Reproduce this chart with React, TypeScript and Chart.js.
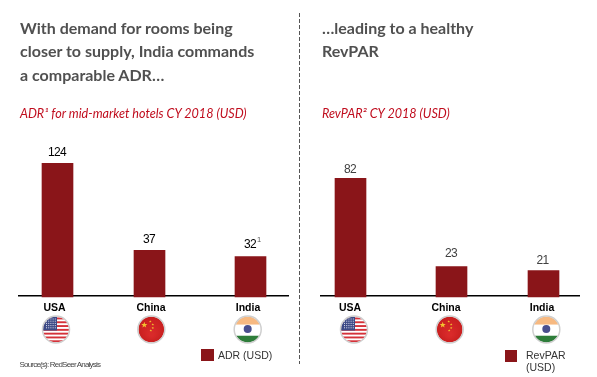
import React, { useEffect, useRef } from "react";
import { Chart, registerables } from "chart.js";

Chart.register(...registerables);

const categories = ["USA", "China", "India"];

// Printed figures in the reference.
const adrValues = [124, 37, 32];
const revparValues = [82, 23, 21];
// The reference's bars are not strictly to scale with their printed figures,
// so bar heights are read from the picture separately (in units of the tallest bar's figure).
const adrBarHeights = [124, 42.3, 36.6];
const revparBarHeights = [82, 20.3, 17.5];

const leftTitle = ["With demand for rooms being", "closer to supply, India commands", "a comparable ADR…"];
const rightTitle = ["…leading to a healthy", "RevPAR"];
const leftSubtitle = "ADR¹ for mid-market hotels CY 2018 (USD)";
const rightSubtitle = "RevPAR² CY 2018 (USD)";
const source = "Source(s): RedSeer Analysis";

const BAR = "#8a1519";

function star(c: CanvasRenderingContext2D, x: number, y: number, r: number) {
  c.beginPath();
  for (let i = 0; i < 10; i++) {
    const a = -Math.PI / 2 + (i * Math.PI) / 5;
    const d = i % 2 ? r * 0.42 : r;
    c.lineTo(x + d * Math.cos(a), y + d * Math.sin(a));
  }
  c.closePath();
  c.fill();
}

function drawFlag(c: CanvasRenderingContext2D, name: string, x: number, y: number) {
  const R = 13;
  c.save();
  c.beginPath();
  c.arc(x, y, R, 0, Math.PI * 2);
  c.clip();
  if (name === "USA") {
    c.fillStyle = "#fff";
    c.fillRect(x - R, y - R, 2 * R, 2 * R);
    c.fillStyle = "#d5323a";
    for (let i = 0; i < 7; i++) c.fillRect(x - R, y - R + 1 + i * 3.8, 2 * R, 1.9);
    c.fillStyle = "#3d4a86";
    c.fillRect(x - R, y - R, R + 1, R + 1);
    c.fillStyle = "#dfe2ee";
    for (let i = 0; i < 5; i++)
      for (let j = 0; j < 5; j++) c.fillRect(x - R + 3 + j * 2.2, y - R + 2 + i * 2.2, 1, 1);
  } else if (name === "China") {
    const g = c.createRadialGradient(x, y + 5, 2, x, y, R);
    g.addColorStop(0, "#d92a2a");
    g.addColorStop(1, "#c81f1f");
    c.fillStyle = g;
    c.fillRect(x - R, y - R, 2 * R, 2 * R);
    c.fillStyle = "#f2c230";
    star(c, x - 7, y - 4.5, 3.2);
    star(c, x - 1, y - 8, 1.3);
    star(c, x + 1.5, y - 5, 1.3);
    star(c, x + 1.5, y - 1.5, 1.3);
    star(c, x - 0.5, y + 1, 1.3);
  } else {
    c.fillStyle = "#fff";
    c.fillRect(x - R, y - R, 2 * R, 2 * R);
    c.fillStyle = "#f7b981";
    c.fillRect(x - R, y - R, 2 * R, R * 0.62);
    c.fillStyle = "#2e7d3a";
    c.fillRect(x - R, y + R * 0.48, 2 * R, R);
    c.fillStyle = "#4a4f8e";
    c.beginPath();
    c.arc(x, y - 0.5, 4, 0, Math.PI * 2);
    c.fill();
  }
  c.restore();
  c.beginPath();
  c.arc(x, y, R + 0.5, 0, Math.PI * 2);
  c.strokeStyle = "#cfcfcf";
  c.lineWidth = 1.5;
  c.stroke();
}

type PanelProps = {
  label: string;
  heights: number[];
  values: number[];
  left: number;
  pad: [number, number];
  range: [number, number];
  yMax: number;
  base: number;
  barSlots: number[];
  tickSlots: number[];
  flagSlots: number[];
  labelNudge: [number, number][];
  labelColor: string;
  note?: string;
};

function Panel(p: PanelProps) {
  const ref = useRef<HTMLCanvasElement>(null);
  useEffect(() => {
    const chart = new Chart(ref.current!, {
      type: "bar",
      data: {
        datasets: [
          {
            label: p.label,
            data: p.heights.map((y, i) => ({ x: p.barSlots[i], y })),
            backgroundColor: BAR,
            barThickness: 31,
            base: p.base,
            clip: false,
          } as any,
        ],
      },
      options: {
        animation: false,
        responsive: false,
        layout: { padding: { left: p.pad[0], right: p.pad[1], top: 0, bottom: 0 } },
        plugins: { legend: { display: false }, tooltip: { enabled: false } },
        scales: {
          x: {
            type: "linear",
            offset: false,
            min: p.range[0],
            max: p.range[1],
            grid: { display: false, drawTicks: false },
            border: { display: true, color: "#000", width: 1.4 },
            afterBuildTicks: (s: any) => {
              s.ticks = p.tickSlots.map((value) => ({ value }));
            },
            afterFit: (s: any) => {
              s.height = 81.5;
            },
            ticks: {
              autoSkip: false,
              maxRotation: 0,
              padding: 6,
              color: "#000",
              font: { family: "Liberation Sans", size: 10.5, weight: "bold" },
              callback: (v: any) => categories[p.tickSlots.indexOf(v)],
            },
          },
          y: { display: false, min: 0, max: p.yMax },
        },
      } as any,
      plugins: [
        {
          id: "marks",
          afterDatasetsDraw(ch: any) {
            const c = ch.ctx as CanvasRenderingContext2D;
            const meta = ch.getDatasetMeta(0);
            c.save();
            c.textAlign = "center";
            c.textBaseline = "middle";
            meta.data.forEach((bar: any, i: number) => {
              const [dx, dy] = p.labelNudge[i];
              c.fillStyle = p.labelColor;
              c.font = "12px 'Liberation Sans'";
              (c as any).letterSpacing = "-0.7px";
              c.fillText(String(p.values[i]), bar.x + dx, bar.y + dy);
              (c as any).letterSpacing = "0px";
              if (p.note && i === 2) {
                c.font = "7.5px 'Liberation Sans'";
                c.fillStyle = "#555";
                c.fillText(p.note, bar.x + dx + 9, bar.y + dy - 4.5);
              }
            });
            c.restore();
            categories.forEach((name, i) => {
              drawFlag(c, name, ch.scales.x.getPixelForValue(p.flagSlots[i]), 329.5);
            });
          },
        },
      ],
    });
    return () => chart.destroy();
  }, []);
  return (
    <canvas
      ref={ref}
      width={297}
      height={377}
      style={{ position: "absolute", left: p.left, top: 0, width: 297, height: 377 }}
    />
  );
}

const abs = (left: number, top: number, extra: React.CSSProperties = {}): React.CSSProperties => ({
  position: "absolute",
  left,
  top,
  whiteSpace: "nowrap",
  ...extra,
});
const titleStyle: React.CSSProperties = { fontFamily: "Lato", fontWeight: 700, fontSize: 16, color: "#505050", lineHeight: "23.5px" };
const subStyle: React.CSSProperties = { fontFamily: "Lato", fontStyle: "italic", fontSize: 12.6, color: "#c00d1e", lineHeight: "16px" };
const legendText: React.CSSProperties = { fontFamily: "Liberation Sans", fontSize: 10.5, color: "#333", lineHeight: "12px" };

export default function App() {
  return (
    <div style={{ position: "absolute", left: 0, top: 0, width: 597, height: 377, background: "#fff", overflow: "hidden" }}>
      <Panel
        label="ADR (USD)"
        heights={adrBarHeights}
        values={adrValues}
        left={0}
        pad={[19, 9]}
        range={[-0.385, 2.305]}
        yMax={277.1}
        base={-1.3}
        barSlots={[0, 0.92, 1.93]}
        tickSlots={[-0.03, 0.935, 1.905]}
        flagSlots={[-0.015, 0.938, 1.902]}
        labelNudge={[[-0.5, -11], [-0.5, -10.5], [-0.5, -12]]}
        labelColor="#000"
        note="1"
      />
      <Panel
        label="RevPAR (USD)"
        heights={revparBarHeights}
        values={revparValues}
        left={300}
        pad={[21, 18]}
        range={[-0.295, 2.285]}
        yMax={206.7}
        base={-1}
        barSlots={[0, 1.01, 1.93]}
        tickSlots={[-0.005, 0.955, 1.915]}
        flagSlots={[0.035, 0.992, 1.958]}
        labelNudge={[[-0.5, -9], [-0.5, -13], [-1, -10]]}
        labelColor="#404040"
      />
      <div style={abs(299, 13, { width: 1, height: 351, background: "repeating-linear-gradient(to bottom,#555 0 4px,transparent 4px 6px)" })} />
      <div style={abs(20, 15.5, titleStyle)}>
        {leftTitle.map((t) => (
          <div key={t}>{t}</div>
        ))}
      </div>
      <div style={abs(322, 15.5, titleStyle)}>
        {rightTitle.map((t) => (
          <div key={t}>{t}</div>
        ))}
      </div>
      <div style={abs(20, 106, subStyle)}>{leftSubtitle}</div>
      <div style={abs(322, 106, subStyle)}>{rightSubtitle}</div>
      <div style={abs(19.5, 360, { fontFamily: "Liberation Sans", fontSize: 8, color: "#444", letterSpacing: -0.8, lineHeight: "10px" })}>{source}</div>
      <div style={abs(201, 349, { width: 13, height: 12, background: BAR })} />
      <div style={abs(218, 349, legendText)}>ADR (USD)</div>
      <div style={abs(505, 350, { width: 12, height: 12, background: BAR })} />
      <div style={abs(526, 349, legendText)}>
        RevPAR
        <br />
        (USD)
      </div>
    </div>
  );
}
